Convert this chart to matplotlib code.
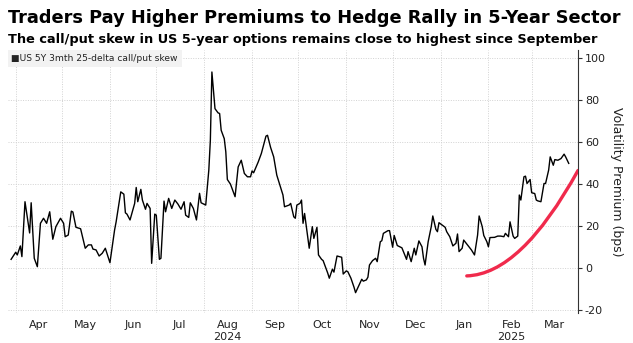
import numpy as np
import pandas as pd
import matplotlib
matplotlib.use("Agg")
import matplotlib.pyplot as plt
import matplotlib.dates as mdates
from matplotlib.path import Path
from matplotlib.patches import PathPatch

# Skew series (bps)
dates = [
    "2024-03-29", "2024-04-01", "2024-04-02", "2024-04-04", "2024-04-05", "2024-04-07",
    "2024-04-10", "2024-04-11", "2024-04-13", "2024-04-15", "2024-04-17", "2024-04-19",
    "2024-04-21", "2024-04-23", "2024-04-25", "2024-04-27", "2024-04-30", "2024-05-02",
    "2024-05-03", "2024-05-05", "2024-05-07", "2024-05-08", "2024-05-10", "2024-05-13",
    "2024-05-16", "2024-05-18", "2024-05-20", "2024-05-21", "2024-05-23", "2024-05-25",
    "2024-05-27", "2024-05-29", "2024-06-01", "2024-06-04", "2024-06-05", "2024-06-08",
    "2024-06-10", "2024-06-11", "2024-06-12", "2024-06-14", "2024-06-17", "2024-06-18",
    "2024-06-19", "2024-06-21", "2024-06-22", "2024-06-24", "2024-06-25", "2024-06-27",
    "2024-06-28", "2024-06-30", "2024-07-01", "2024-07-03", "2024-07-04", "2024-07-06",
    "2024-07-07", "2024-07-09", "2024-07-11", "2024-07-13", "2024-07-15", "2024-07-17",
    "2024-07-19", "2024-07-20", "2024-07-22", "2024-07-23", "2024-07-25", "2024-07-27",
    "2024-07-29", "2024-07-30", "2024-08-02", "2024-08-04", "2024-08-05", "2024-08-06",
    "2024-08-08", "2024-08-10", "2024-08-11", "2024-08-12", "2024-08-14", "2024-08-15",
    "2024-08-16", "2024-08-18", "2024-08-21", "2024-08-23", "2024-08-25", "2024-08-27",
    "2024-08-29", "2024-08-31", "2024-09-01", "2024-09-02", "2024-09-05", "2024-09-07",
    "2024-09-10", "2024-09-11", "2024-09-13", "2024-09-15", "2024-09-17", "2024-09-19",
    "2024-09-21", "2024-09-22", "2024-09-25", "2024-09-26", "2024-09-28", "2024-09-29",
    "2024-09-30", "2024-10-02", "2024-10-03", "2024-10-04", "2024-10-05", "2024-10-08",
    "2024-10-10", "2024-10-11", "2024-10-13", "2024-10-14", "2024-10-16", "2024-10-17",
    "2024-10-19", "2024-10-20", "2024-10-21", "2024-10-23", "2024-10-24", "2024-10-26",
    "2024-10-29", "2024-10-30", "2024-11-01", "2024-11-02", "2024-11-04", "2024-11-06",
    "2024-11-07", "2024-11-09", "2024-11-11", "2024-11-12", "2024-11-14", "2024-11-15",
    "2024-11-16", "2024-11-18", "2024-11-20", "2024-11-21", "2024-11-23", "2024-11-24",
    "2024-11-25", "2024-11-28", "2024-11-29", "2024-12-01", "2024-12-02", "2024-12-04",
    "2024-12-07", "2024-12-08", "2024-12-10", "2024-12-11", "2024-12-13", "2024-12-15",
    "2024-12-16", "2024-12-18", "2024-12-20", "2024-12-21", "2024-12-22", "2024-12-24",
    "2024-12-26", "2024-12-27", "2024-12-29", "2024-12-30", "2024-12-31", "2025-01-02",
    "2025-01-04", "2025-01-05", "2025-01-07", "2025-01-09", "2025-01-11", "2025-01-12",
    "2025-01-13", "2025-01-15", "2025-01-16", "2025-01-18", "2025-01-21", "2025-01-23",
    "2025-01-25", "2025-01-26", "2025-01-28", "2025-01-29", "2025-01-31", "2025-02-01",
    "2025-02-02", "2025-02-05", "2025-02-07", "2025-02-09", "2025-02-11", "2025-02-12",
    "2025-02-14", "2025-02-15", "2025-02-17", "2025-02-18", "2025-02-20", "2025-02-21",
    "2025-02-22", "2025-02-24", "2025-02-25", "2025-02-26", "2025-02-28", "2025-03-01",
    "2025-03-03", "2025-03-04", "2025-03-05", "2025-03-07", "2025-03-09", "2025-03-10",
    "2025-03-12", "2025-03-13", "2025-03-15", "2025-03-16", "2025-03-18", "2025-03-20",
    "2025-03-22", "2025-03-23", "2025-03-25",
]
skew = [
    4.1, 7.5, 6.2, 10.5, 5.4, 31.6,
    16.7, 31.1, 4.6, 0.6, 21.3, 23.7,
    21.3, 26.8, 13.7, 19.7, 23.7, 21.3,
    14.9, 15.7, 27.1, 26.7, 19.4, 18.7,
    9.4, 11.0, 11.0, 9.0, 8.6, 5.7,
    7.0, 9.4, 2.5, 18.1, 22.0, 36.3,
    35.2, 26.3, 25.7, 22.9, 30.8, 38.4,
    31.6, 37.5, 32.4, 28.0, 30.8, 28.4,
    2.2, 25.7, 25.2, 4.1, 4.6, 31.9,
    26.8, 33.2, 28.4, 32.4, 30.5, 28.0,
    31.6, 25.2, 24.1, 31.1, 28.4, 22.9,
    35.6, 31.1, 30.0, 46.7, 61.0, 93.5,
    76.0, 74.0, 73.7, 65.7, 61.7, 55.4,
    42.2, 40.0, 34.0, 48.2, 51.4, 45.1,
    43.5, 43.5, 46.3, 45.4, 50.6, 54.6,
    62.9, 63.3, 57.5, 53.0, 44.3, 39.5,
    34.8, 29.2, 30.0, 30.8, 24.4, 23.7,
    30.0, 30.8, 32.4, 21.3, 26.0, 9.4,
    19.7, 14.1, 19.4, 6.2, 4.1, 3.5,
    -0.6, -2.5, -4.9, -0.6, -2.0, 5.7,
    5.1, -2.9, -1.4, -1.8, -4.9, -9.2,
    -11.8, -8.6, -5.4, -6.3, -5.7, -4.4,
    1.4, 3.5, 4.6, 3.0, 12.5, 13.0,
    16.5, 17.8, 17.8, 9.9, 15.5, 10.7,
    9.6, 7.8, 4.1, 7.8, 3.0, 9.4,
    6.2, 12.9, 10.1, 4.6, 1.4, 12.5,
    19.7, 24.8, 18.4, 17.3, 21.6, 20.5,
    19.4, 17.3, 14.9, 10.5, 11.8, 16.2,
    7.8, 9.4, 13.3, 11.4, 8.6, 6.2,
    15.7, 24.8, 19.7, 15.5, 12.5, 10.1,
    14.5, 14.6, 15.2, 15.2, 14.9, 16.5,
    14.9, 22.0, 15.2, 14.1, 15.2, 34.8,
    32.4, 43.5, 43.8, 40.3, 42.2, 35.9,
    35.5, 32.4, 32.0, 31.6, 40.3, 40.3,
    46.7, 53.0, 49.0, 51.7, 51.4, 52.2,
    54.3, 53.0, 49.9,
]

# Red hand-drawn arc: start, bezier control, end
arc_dates = ["2025-01-18", "2025-02-22", "2025-03-31"]
arc_values = [-3.8, -3.0, 46.5]

months = ["Apr", "May", "Jun", "Jul", "Aug\n2024", "Sep", "Oct", "Nov", "Dec",
          "Jan", "Feb\n2025", "Mar"]
y_ticks = [-20, 0, 20, 40, 60, 80, 100]

x = pd.to_datetime(dates)
x_start = pd.Timestamp("2024-03-27")
x_end = pd.Timestamp("2025-03-31")

fig = plt.figure(figsize=(6.33, 3.43), dpi=100)
ax = fig.add_axes([8 / 633, 30 / 343, 570 / 633, 263 / 343])

ax.plot(x, skew, color="black", lw=1.0, zorder=3)

# red arc
xa = mdates.date2num(pd.to_datetime(arc_dates))
verts = list(zip(xa, arc_values))
path = Path(verts, [Path.MOVETO, Path.CURVE3, Path.CURVE3])
ax.add_patch(PathPatch(path, fill=False, edgecolor="#f02a4c", lw=2.4,
                       capstyle="round", zorder=4))

ax.set_xlim(x_start, x_end)
ax.set_ylim(-21.5, 104)

# month gridlines at month starts, labels mid-month
ax.xaxis.set_major_locator(mdates.MonthLocator(bymonthday=1))
ax.xaxis.set_major_formatter(plt.NullFormatter())
mid_months = mdates.date2num(pd.date_range("2024-04-01", "2025-03-01", freq="MS")
                             + pd.Timedelta(days=15))
ax.set_xticks(mid_months, minor=True)
ax.set_xticklabels(months, minor=True)
ax.tick_params(axis="x", which="major", length=0)
ax.tick_params(axis="x", which="minor", length=0, labelsize=8,
               labelcolor="#222222", pad=5)

ax.yaxis.tick_right()
ax.yaxis.set_label_position("right")
ax.set_yticks(y_ticks)
ax.set_yticklabels([str(v) for v in y_ticks])
ax.tick_params(axis="y", length=3, width=0.8, color="#333333", labelsize=8,
               labelcolor="#222222", pad=2)
ax.set_ylabel("Volatility Premium (bps)", rotation=270, labelpad=12,
              fontsize=9, color="#222222")

ax.grid(True, which="major", color="#d2d2d2", lw=0.7, ls=(0, (1, 1.5)))
for side in ["top", "left", "bottom"]:
    ax.spines[side].set_visible(False)
ax.spines["right"].set_color("#333333")
ax.spines["right"].set_linewidth(0.8)

# legend box
ax.text(0.006, 0.985, "\u25a0US 5Y 3mth 25-delta call/put skew",
        transform=ax.transAxes, ha="left", va="top", fontsize=6.6,
        color="#222222",
        bbox=dict(boxstyle="square,pad=0.4", fc="#f2f2f2", ec="none"))

fig.text(8 / 633, 1 - 23 / 343,
         "Traders Pay Higher Premiums to Hedge Rally in 5-Year Sector",
         fontsize=12.8, fontweight="bold", ha="left", va="baseline")
fig.text(8 / 633, 1 - 43 / 343,
         "The call/put skew in US 5-year options remains close to highest since September",
         fontsize=9.3, fontweight="bold", ha="left", va="baseline")

fig.savefig("out.png", dpi=100)
plt.close(fig)
